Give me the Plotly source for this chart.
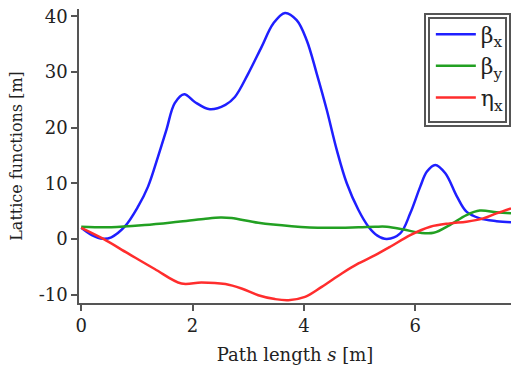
import plotly.graph_objects as go

# ---- data ----
s_bx = [0, 0.19, 0.39, 0.54, 0.78, 1.02, 1.2, 1.38, 1.53, 1.68, 1.85, 2.04, 2.31, 2.59,
        2.76, 3.0, 3.24, 3.45, 3.66, 3.87, 4.05, 4.23, 4.41, 4.59, 4.77, 4.98, 5.16, 5.32,
        5.49, 5.73, 5.91, 6.09, 6.21, 6.36, 6.54, 6.75, 6.92, 7.16, 7.46, 7.72]
beta_x = [2.0, 0.7, 0.05, 0.3, 2.2, 5.8, 9.4, 14.8, 19.6, 24.4, 26.0, 24.6, 23.3, 24.1,
          25.5, 29.7, 34.5, 38.7, 40.6, 39.3, 35.7, 29.7, 23.2, 16.0, 10.0, 5.2, 2.2, 0.6,
          0.0, 1.0, 4.6, 9.4, 12.1, 13.3, 11.8, 7.6, 4.9, 3.7, 3.2, 3.0]

s_by = [0, 0.54, 1.14, 1.74, 2.2, 2.5, 2.7, 3.18, 3.78, 4.38, 4.98, 5.28, 5.49, 5.79,
        6.09, 6.33, 6.62, 6.92, 7.16, 7.46, 7.72]
beta_y = [2.2, 2.1, 2.5, 3.1, 3.6, 3.85, 3.75, 2.9, 2.3, 2.0, 2.1, 2.2, 2.2, 1.7,
          1.1, 1.1, 2.5, 4.3, 5.1, 4.8, 4.6]

s_ex = [0, 0.39, 0.84, 1.32, 1.8, 2.16, 2.59, 2.88, 3.18, 3.48, 3.72, 4.02, 4.32, 4.68,
        4.98, 5.28, 5.55, 5.91, 6.27, 6.62, 6.92, 7.22, 7.46, 7.72]
eta_x = [2.0, 0.05, -2.6, -5.4, -8.0, -7.8, -8.1, -8.9, -10.1, -10.8, -11.0, -10.4, -8.6, -6.2,
         -4.4, -2.9, -1.4, 0.7, 2.2, 2.8, 3.1, 3.7, 4.6, 5.5]

names = ["β<sub>x</sub>", "β<sub>y</sub>", "η<sub>x</sub>"]
colors = ["#1f1fff", "#22a022", "#ff2d2d"]

y_tickvals = [-10, 0, 10, 20, 30, 40]
y_ticktext = ["-10", "0", "10", "20", "30", "40"]
x_tickvals = [0, 2, 4, 6]
x_ticktext = ["0", "2", "4", "6"]

FONT = "DejaVu Serif"

fig = go.Figure()
for xs, ys, nm, col in zip([s_bx, s_by, s_ex], [beta_x, beta_y, eta_x], names, colors):
    fig.add_trace(go.Scatter(x=xs, y=ys, mode="lines", name=nm,
                             line=dict(color=col, width=2.5, shape="spline", smoothing=1.0)))

axis_common = dict(showline=True, linecolor="#555555", linewidth=1.5, ticks="outside",
                   ticklen=6, tickwidth=1.5, tickcolor="#555555", showgrid=False,
                   zeroline=False, tickfont=dict(family=FONT, size=18, color="#222222"))

fig.update_layout(
    width=511, height=378,
    margin=dict(l=79, r=0, t=9, b=75),
    paper_bgcolor="white", plot_bgcolor="white",
    font=dict(family=FONT, color="#222222"),
    xaxis=dict(range=[-0.04, 7.72], tickvals=x_tickvals, ticktext=x_ticktext,
               title=dict(text="Path length <i>s</i> [m]", font=dict(family=FONT, size=18),
                          standoff=13), **axis_common),
    yaxis=dict(range=[-11.5, 41.3], tickvals=y_tickvals, ticktext=y_ticktext,
               title=dict(text="Lattice functions [m]", font=dict(family=FONT, size=16),
                          standoff=12), **axis_common),
    legend=dict(x=0.995, xanchor="right", y=0.985, yanchor="top",
                bgcolor="rgba(0,0,0,0)", borderwidth=0,
                font=dict(family=FONT, size=22, color="#222222"),
                itemwidth=40, tracegroupgap=0),
    showlegend=True,
)

# double border around legend
pw, ph = 511 - 79, 378 - 9 - 75
def px2paper_x(p):
    return (p - 79) / pw
def px2paper_y(p):
    return (303 - p) / ph

for i, (x0, y0, x1, y1) in enumerate([(425, 14, 510, 126), (429, 18, 506, 122)]):
    fig.add_shape(type="rect", xref="paper", yref="paper",
                  x0=px2paper_x(x0), x1=px2paper_x(x1), y0=px2paper_y(y1), y1=px2paper_y(y0),
                  line=dict(color="#555555", width=2),
                  fillcolor="white" if i == 0 else "rgba(0,0,0,0)", layer="above")

fig.write_html("out.html")
